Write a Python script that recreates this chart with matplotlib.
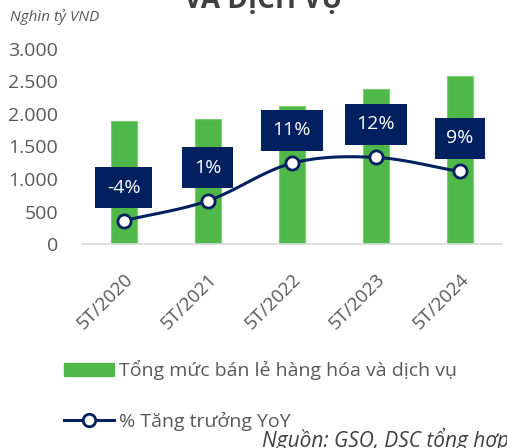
import numpy as np
import matplotlib
matplotlib.use("Agg")
import matplotlib.pyplot as plt
from matplotlib.lines import Line2D
from matplotlib.patches import Patch

plt.rcParams['font.family'] = ['Open Sans', 'DejaVu Sans']

# du lieu doc tu hinh
periods = ['5T/2020', '5T/2021', '5T/2022', '5T/2023', '5T/2024']
retail = [1890, 1920, 2120, 2380, 2590]          # nghin ty VND
growth = [-4.0, 1.1, 10.7, 12.2, 8.6]            # % YoY
growth_labels = ['-4%', '1%', '11%', '12%', '9%']

GREEN = '#50B848'
NAVY = '#002060'
GRAY = '#595959'


def smooth(xs, ys, n=30):
    # duong cong kieu Excel (Catmull-Rom) qua cac diem
    xs = np.asarray(xs, float)
    ys = np.asarray(ys, float)
    px = np.concatenate([[2 * xs[0] - xs[1]], xs, [2 * xs[-1] - xs[-2]]])
    py = np.concatenate([[2 * ys[0] - ys[1]], ys, [2 * ys[-1] - ys[-2]]])
    outx, outy = [], []
    for i in range(1, len(px) - 2):
        t = np.linspace(0, 1, n)
        for p, out in ((px, outx), (py, outy)):
            p0, p1, p2, p3 = p[i - 1], p[i], p[i + 1], p[i + 2]
            out.extend(0.5 * ((2 * p1) + (-p0 + p2) * t
                              + (2 * p0 - 5 * p1 + 4 * p2 - p3) * t ** 2
                              + (-p0 + 3 * p1 - 3 * p2 + p3) * t ** 3))
    return outx, outy


fig = plt.figure(figsize=(5.07, 4.48), dpi=100)
ax = fig.add_axes([0.161, 0.455, 0.829, 0.436])
x = np.arange(len(periods))

ax.bar(x, retail, width=0.31, color=GREEN, edgecolor='#7CCB75', linewidth=0.8, zorder=2)
ax.set_ylim(0, 3000)
ax.set_xlim(-0.5, 4.5)
ax.set_yticks(range(0, 3001, 500))
ax.set_yticklabels(['0', '500', '1.000', '1.500', '2.000', '2.500', '3.000'])
ax.tick_params(axis='y', length=0, pad=17, labelsize=14, labelcolor=GRAY)
ax.set_xticks(x)
ax.set_xticklabels(periods, rotation=45, ha='right', rotation_mode='anchor')
ax.tick_params(axis='x', length=0, pad=19, labelsize=13.5, labelcolor=GRAY)
for s in ['top', 'right', 'left']:
    ax.spines[s].set_visible(False)
ax.spines['bottom'].set_color('#D9D9D9')
ax.spines['bottom'].set_linewidth(1.2)

# truc phu cho % tang truong
ax2 = ax.twinx()
ax2.set_ylim(-10, 40)
ax2.axis('off')
sx, sy = smooth(x, growth)
ax2.plot(sx, sy, color=NAVY, lw=2.2, zorder=3)
ax2.plot(x, growth, 'o', ms=9.5, mfc='white', mec=NAVY, mew=2, zorder=4)
for xi, gi, lab in zip(x, growth, growth_labels):
    ax2.annotate(lab, (xi, gi), xytext=(0, 33), textcoords='offset pixels',
                 ha='center', va='center', color='white', fontsize=14,
                 bbox=dict(boxstyle='square,pad=0.6', fc=NAVY, ec='none'))

# chu thich
handles = [Patch(color=GREEN),
           Line2D([0], [0], color=NAVY, lw=2.2, marker='o', ms=9, mfc='white', mec=NAVY, mew=2)]
fig.legend(handles, ['Tổng mức bán lẻ hàng hóa và dịch vụ', '% Tăng trưởng YoY'],
           loc='upper left', bbox_to_anchor=(0.11, 0.213), frameon=False,
           fontsize=14, labelcolor=GRAY, handlelength=2.6, handletextpad=0.25,
           labelspacing=1.6, borderaxespad=0)

fig.text(0.02, 0.962, 'Nghìn tỷ VND', style='italic', fontsize=11, color=GRAY, va='center')
fig.text(0.52, 0.982, 'VÀ DỊCH VỤ', fontsize=20, fontweight='bold', color='#404040',
         ha='center', va='baseline')
fig.text(0.517, 0.003, 'Nguồn: GSO, DSC tổng hợp', style='italic', fontsize=15,
         color='#404040', va='baseline')

fig.savefig('out.png', dpi=100)
